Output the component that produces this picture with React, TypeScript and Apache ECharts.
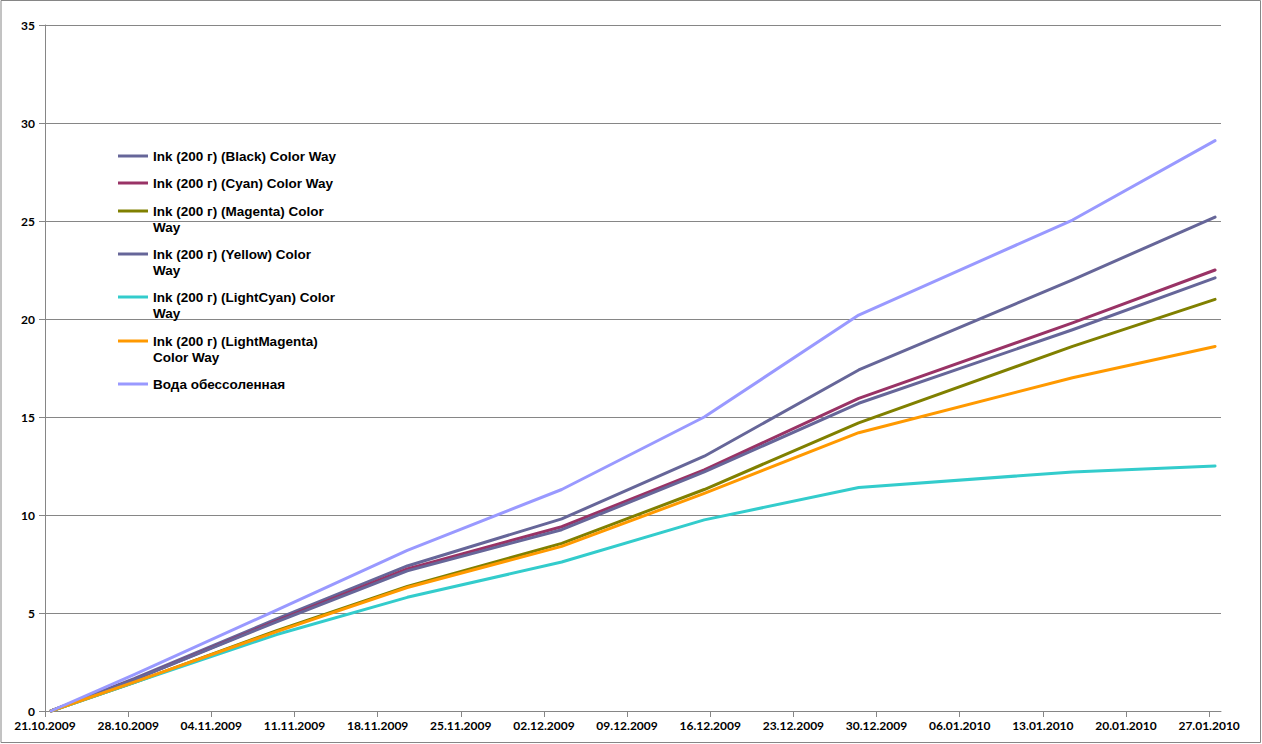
import React, { useEffect, useRef } from "react";
import * as echarts from "echarts";

// ---- data ----
const AXIS_START = "21.10.2009";
const AXIS_END = "28.01.2010";

const sampleDates = [
  "21.10.2009",
  "28.10.2009",
  "09.11.2009",
  "20.11.2009",
  "03.12.2009",
  "15.12.2009",
  "28.12.2009",
  "15.01.2010",
  "27.01.2010",
];

const xTickLabels = [
  "21.10.2009",
  "28.10.2009",
  "04.11.2009",
  "11.11.2009",
  "18.11.2009",
  "25.11.2009",
  "02.12.2009",
  "09.12.2009",
  "16.12.2009",
  "23.12.2009",
  "30.12.2009",
  "06.01.2010",
  "13.01.2010",
  "20.01.2010",
  "27.01.2010",
];

const seriesNames = [
  "Ink (200 г) (Black) Color Way",
  "Ink (200 г) (Cyan) Color Way",
  "Ink (200 г) (Magenta) Color Way",
  "Ink (200 г) (Yellow) Color Way",
  "Ink (200 г) (LightCyan) Color Way",
  "Ink (200 г) (LightMagenta) Color Way",
  "Вода обессоленная",
];

const legendLabels = [
  "Ink (200 г) (Black) Color Way",
  "Ink (200 г) (Cyan) Color Way",
  "Ink (200 г) (Magenta) Color\nWay",
  "Ink (200 г) (Yellow) Color\nWay",
  "Ink (200 г) (LightCyan) Color\nWay",
  "Ink (200 г) (LightMagenta)\nColor Way",
  "Вода обессоленная",
];

const seriesColors = ["#666699", "#993366", "#808000", "#666699", "#33CCCC", "#FF9900", "#9999FF"];

const blackValues = [0, 1.65, 4.7, 7.4, 9.8, 13.0, 17.4, 22.0, 25.2];
const cyanValues = [0, 1.6, 4.6, 7.25, 9.4, 12.3, 15.95, 19.8, 22.5];
const magentaValues = [0, 1.45, 4.1, 6.35, 8.55, 11.3, 14.7, 18.6, 21.0];
const yellowValues = [0, 1.6, 4.55, 7.15, 9.25, 12.2, 15.7, 19.45, 22.1];
const lightCyanValues = [0, 1.45, 3.9, 5.8, 7.6, 9.75, 11.4, 12.2, 12.5];
const lightMagentaValues = [0, 1.47, 4.05, 6.3, 8.4, 11.1, 14.2, 17.0, 18.6];
const waterValues = [0, 1.85, 5.15, 8.2, 11.3, 15.0, 20.2, 25.05, 29.1];

const allValues = [
  blackValues,
  cyanValues,
  magentaValues,
  yellowValues,
  lightCyanValues,
  lightMagentaValues,
  waterValues,
];

const yTickLabels = ["0", "5", "10", "15", "20", "25", "30", "35"];

// ---- helpers ----
function dayOffset(s: string): number {
  const [d, m, y] = s.split(".").map(Number);
  const [d0, m0, y0] = AXIS_START.split(".").map(Number);
  return (Date.UTC(y, m - 1, d) - Date.UTC(y0, m0 - 1, d0)) / 86400000;
}

const FONT = "Lato, 'Open Sans', sans-serif";
const LEGEND_FONT = "'Liberation Sans', Arial, sans-serif";
const GRAY = "#868686";

export default function App() {
  const ref = useRef<HTMLDivElement>(null);

  useEffect(() => {
    if (!ref.current) return;
    const chart = echarts.init(ref.current, undefined, { renderer: "svg" });

    const tickValues = xTickLabels.map(dayOffset);
    const legendCenters = [156, 183, 211, 254, 297, 341, 384];

    const legends = seriesNames.map((name, i) => {
      const wrapped = legendLabels[i].includes("\n");
      return {
        data: [{ name, icon: "rect", itemStyle: { color: seriesColors[i] } }],
        orient: "vertical",
        left: 118,
        top: wrapped ? legendCenters[i] - 24 : legendCenters[i] - 8,
        padding: 0,
        itemWidth: 30,
        itemHeight: 3,
        itemGap: 0,
        selectedMode: false,
        formatter: () => (wrapped ? "\n" + legendLabels[i] : legendLabels[i]),
        textStyle: {
          fontFamily: LEGEND_FONT,
          fontWeight: "bold",
          fontSize: 13.5,
          lineHeight: 16,
          color: "#000",
        },
      };
    });

    const series = seriesNames.map((name, i) => ({
      name,
      type: "line",
      symbol: "none",
      color: seriesColors[i],
      lineStyle: { width: 3, color: seriesColors[i], cap: "round", join: "round" },
      data: sampleDates.map((d, j) => [dayOffset(d) + 0.5, allValues[i][j]]),
    }));

    chart.setOption({
      animation: false,
      backgroundColor: "#fff",
      grid: { left: 45, right: 41, top: 25, bottom: 33 },
      legend: legends,
      xAxis: {
        type: "value",
        min: 0,
        max: dayOffset(AXIS_END),
        interval: 7,
        axisLine: { show: true, onZero: false, lineStyle: { color: GRAY, width: 1 } },
        axisTick: { show: true, length: 6, customValues: tickValues, lineStyle: { color: GRAY } },
        splitLine: { show: false },
        axisLabel: {
          customValues: tickValues,
          margin: 8,
          fontFamily: FONT,
          fontWeight: "bold",
          fontSize: 12,
          color: "#000",
          formatter: (v: number) => {
            const idx = tickValues.indexOf(v);
            return idx >= 0 ? xTickLabels[idx] : "";
          },
        },
      },
      yAxis: {
        type: "value",
        min: 0,
        max: 35,
        interval: 5,
        axisLine: { show: true, lineStyle: { color: GRAY, width: 1 } },
        axisTick: { show: true, length: 6, lineStyle: { color: GRAY } },
        splitLine: { show: true, lineStyle: { color: GRAY, width: 1 } },
        axisLabel: {
          margin: 10,
          fontFamily: FONT,
          fontWeight: "bold",
          fontSize: 12,
          color: "#000",
          formatter: (v: number) => yTickLabels[Math.round(v / 5)] ?? String(v),
        },
      },
      graphic: [
        {
          type: "rect",
          silent: true,
          shape: { x: 1, y: 0.5, width: 1259.5, height: 742 },
          style: { fill: "none", stroke: GRAY, lineWidth: 1 },
        },
      ],
      series,
    });

    return () => chart.dispose();
  }, []);

  return (
    <div
      ref={ref}
      style={{ position: "fixed", left: 0, top: 0, width: 1262, height: 744, background: "#fff" }}
    />
  );
}
